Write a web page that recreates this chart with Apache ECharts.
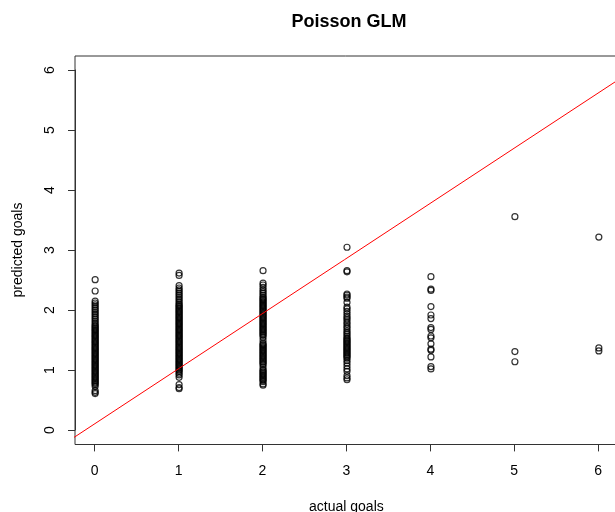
<!DOCTYPE html>
<html>
<head>
<meta charset="utf-8">
<script src="https://cdn.jsdelivr.net/npm/echarts@6/dist/echarts.min.js"></script>
<style>
  html, body { margin: 0; padding: 0; background: #fff; }
  #chart { width: 615px; height: 512px; }
</style>
</head>
<body>
<div id="chart"></div>
<script>
// predicted goals, grouped by actual goals (0..6)
const pred0 = [2.51, 2.32, 2.15, 2.12, 2.09, 2.06, 2.03, 2.0, 1.97, 1.94, 1.91, 1.88, 1.85, 1.82, 1.79, 1.76, 1.74, 1.72, 1.7, 1.68, 1.66, 1.64, 1.62, 1.6, 1.58, 1.56, 1.54, 1.52, 1.5, 1.48, 1.46, 1.44, 1.42, 1.4, 1.38, 1.36, 1.34, 1.32, 1.3, 1.28, 1.26, 1.24, 1.22, 1.2, 1.18, 1.16, 1.14, 1.12, 1.1, 1.08, 1.06, 1.04, 1.02, 1.0, 0.98, 0.96, 0.94, 0.92, 0.9, 0.88, 0.86, 0.84, 0.82, 0.8, 0.78, 0.76, 0.73, 0.66, 0.63, 0.61];
const pred1 = [2.62, 2.58, 2.41, 2.37, 2.34, 2.31, 2.28, 2.25, 2.22, 2.19, 2.16, 2.13, 2.1, 2.08, 2.06, 2.04, 2.02, 2.0, 1.98, 1.96, 1.94, 1.92, 1.9, 1.88, 1.86, 1.84, 1.82, 1.8, 1.78, 1.76, 1.74, 1.72, 1.7, 1.68, 1.66, 1.64, 1.62, 1.6, 1.58, 1.56, 1.54, 1.52, 1.5, 1.48, 1.46, 1.44, 1.42, 1.4, 1.38, 1.36, 1.34, 1.32, 1.3, 1.28, 1.26, 1.24, 1.22, 1.2, 1.18, 1.16, 1.14, 1.12, 1.1, 1.08, 1.06, 1.04, 1.02, 1.0, 0.98, 0.95, 0.92, 0.88, 0.76, 0.71, 0.69];
const pred2 = [2.66, 2.45, 2.42, 2.38, 2.34, 2.31, 2.28, 2.25, 2.22, 2.2, 2.18, 2.16, 2.14, 2.12, 2.1, 2.08, 2.06, 2.04, 2.02, 2.0, 1.98, 1.96, 1.94, 1.92, 1.9, 1.88, 1.86, 1.84, 1.82, 1.8, 1.78, 1.76, 1.74, 1.72, 1.7, 1.68, 1.66, 1.64, 1.62, 1.6, 1.58, 1.55, 1.5, 1.45, 1.43, 1.41, 1.39, 1.37, 1.35, 1.33, 1.31, 1.29, 1.27, 1.25, 1.23, 1.21, 1.19, 1.17, 1.15, 1.13, 1.11, 1.09, 1.05, 1.01, 0.99, 0.97, 0.95, 0.93, 0.91, 0.89, 0.87, 0.85, 0.83, 0.81, 0.77, 0.75];
const pred3 = [3.05, 2.66, 2.64, 2.27, 2.25, 2.22, 2.2, 2.13, 2.05, 2.02, 1.98, 1.94, 1.9, 1.87, 1.84, 1.8, 1.77, 1.73, 1.7, 1.66, 1.63, 1.6, 1.57, 1.54, 1.52, 1.5, 1.48, 1.46, 1.44, 1.42, 1.4, 1.38, 1.36, 1.34, 1.32, 1.3, 1.28, 1.26, 1.24, 1.22, 1.2, 1.16, 1.12, 1.07, 1.02, 0.98, 0.91, 0.87, 0.84];
const pred4 = [2.56, 2.35, 2.33, 2.06, 1.92, 1.86, 1.71, 1.68, 1.57, 1.54, 1.44, 1.35, 1.33, 1.22, 1.06, 1.02];
const pred5 = [3.56, 1.31, 1.14];
const pred6 = [3.22, 1.37, 1.32];
const groups = [pred0, pred1, pred2, pred3, pred4, pred5, pred6];

// red reference line (two end points)
const lineX = [-0.5, 6.5];
const lineY = [-0.35, 6.09];

const axisTicks = [0, 1, 2, 3, 4, 5, 6];

const points = [];
groups.forEach(function (g, actual) {
  g.forEach(function (p) { points.push([actual, p]); });
});
const lineData = lineX.map(function (x, i) { return [x, lineY[i]]; });

const font = "'Liberation Sans', Arial, sans-serif";
const chart = echarts.init(document.getElementById('chart'));

// outer box covers 0..6 padded by 4% on each side (R style)
const pad = 0.24;

chart.setOption({
  animation: false,
  backgroundColor: '#fff',
  title: {
    text: 'Poisson GLM',
    left: 344,
    top: 8,
    textAlign: 'center',
    textStyle: { fontFamily: font, fontSize: 18, fontWeight: 'bold', color: '#000' }
  },
  grid: [
    { left: 75, top: 56, width: 544, height: 388.5, show: true, borderColor: '#333', borderWidth: 1,
      backgroundColor: 'transparent', outerBoundsMode: 'none' },
    { left: 94.7, top: 70, width: 503.4, height: 360, outerBoundsMode: 'none' }
  ],
  xAxis: [
    { type: 'value', gridIndex: 0, min: axisTicks[0] - pad, max: axisTicks[6] + pad, show: false },
    {
      type: 'value', gridIndex: 1, min: axisTicks[0], max: axisTicks[6], interval: 1,
      offset: 14.4,
      axisLine: { show: true, onZero: false, lineStyle: { color: '#333', width: 1 } },
      axisTick: { show: true, inside: false, length: 7, lineStyle: { color: '#333' } },
      axisLabel: { margin: 20, color: '#000', fontFamily: font, fontSize: 14 },
      splitLine: { show: false },
      name: 'actual goals',
      nameLocation: 'middle',
      nameGap: 56,
      nameTextStyle: { fontFamily: font, fontSize: 14, color: '#000' }
    }
  ],
  yAxis: [
    { type: 'value', gridIndex: 0, min: axisTicks[0] - pad, max: axisTicks[6] + pad, show: false },
    {
      type: 'value', gridIndex: 1, min: axisTicks[0], max: axisTicks[6], interval: 1,
      offset: 19.7,
      axisLine: { show: true, onZero: false, lineStyle: { color: '#333', width: 1 } },
      axisTick: { show: true, inside: false, length: 7, lineStyle: { color: '#333' } },
      axisLabel: { margin: 18, rotate: 90, color: '#000', fontFamily: font, fontSize: 14 },
      splitLine: { show: false },
      name: 'predicted goals',
      nameLocation: 'middle',
      nameGap: 50,
      nameTextStyle: { fontFamily: font, fontSize: 14, color: '#000' }
    }
  ],
  series: [
    {
      type: 'scatter',
      xAxisIndex: 0, yAxisIndex: 0,
      data: points,
      symbol: 'circle',
      symbolSize: 6,
      itemStyle: { color: 'transparent', borderColor: '#000', borderWidth: 1.2 },
      emphasis: { disabled: true },
      z: 2
    },
    {
      type: 'line',
      xAxisIndex: 0, yAxisIndex: 0,
      data: lineData,
      showSymbol: false,
      clip: true,
      lineStyle: { color: '#ff0000', width: 1 },
      emphasis: { disabled: true },
      z: 3
    }
  ]
});
</script>
</body>
</html>
